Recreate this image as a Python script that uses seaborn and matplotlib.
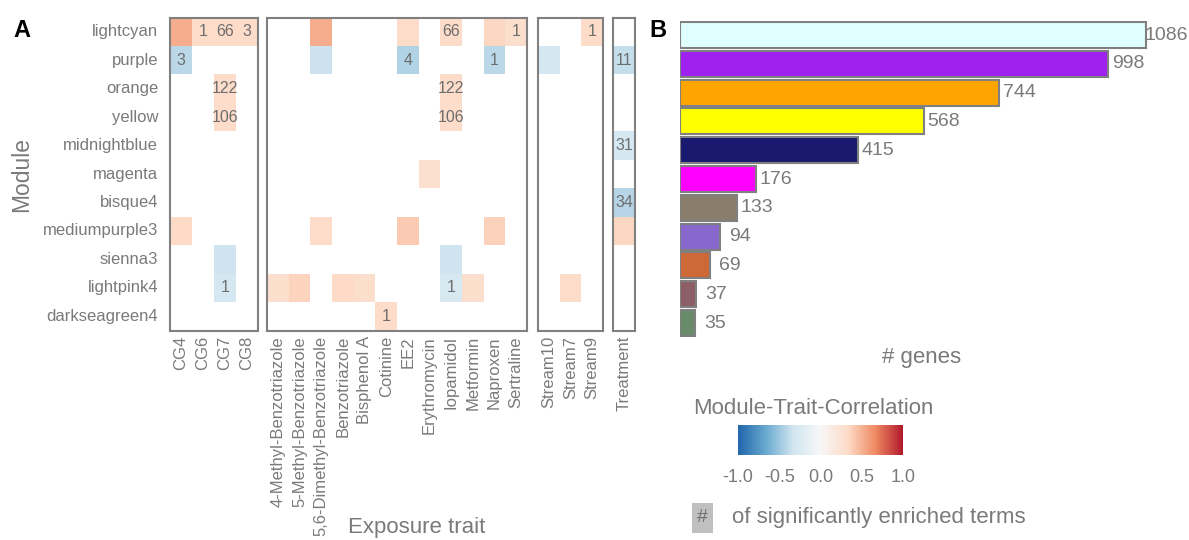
import numpy as np
import pandas as pd
import matplotlib
matplotlib.use("Agg")
import matplotlib.pyplot as plt
from matplotlib.colors import LinearSegmentedColormap, Normalize
from matplotlib.cm import ScalarMappable
from matplotlib.patches import Rectangle
import seaborn as sns

n = np.nan

modules = ["lightcyan", "purple", "orange", "yellow", "midnightblue", "magenta",
           "bisque4", "mediumpurple3", "sienna3", "lightpink4", "darkseagreen4"]
module_colors = ["#E0FFFF", "#A020F0", "#FFA500", "#FFFF00", "#191970", "#FF00FF",
                 "#8B7D6B", "#8968CD", "#CD6839", "#8B5F65", "#698B69"]
gene_counts = [1086, 998, 744, 568, 415, 176, 133, 94, 69, 37, 35]

traits_cg = ["CG4", "CG6", "CG7", "CG8"]
traits_chem = ["4-Methyl-Benzotriazole", "5-Methyl-Benzotriazole", "5,6-Dimethyl-Benzotriazole",
               "Benzotriazole", "Bisphenol A", "Cotinine", "EE2", "Erythromycin",
               "Iopamidol", "Metformin", "Naproxen", "Sertraline"]
traits_stream = ["Stream10", "Stream7", "Stream9"]
traits_treat = ["Treatment"]

# module-trait correlations (NaN = not shown)
corr_cg = [
    [0.52, 0.32, 0.32, 0.32],
    [-0.4, n, n, n],
    [n, n, 0.32, n],
    [n, n, 0.32, n],
    [n, n, n, n],
    [n, n, n, n],
    [n, n, n, n],
    [0.33, n, n, n],
    [n, n, -0.34, n],
    [n, n, -0.3, n],
    [n, n, n, n],
]
corr_chem = [
    [n, n, 0.52, n, n, n, 0.32, n, 0.32, n, 0.35, 0.3],
    [n, n, -0.35, n, n, n, -0.43, n, n, n, -0.4, n],
    [n, n, n, n, n, n, n, n, 0.32, n, n, n],
    [n, n, n, n, n, n, n, n, 0.32, n, n, n],
    [n, n, n, n, n, n, n, n, n, n, n, n],
    [n, n, n, n, n, n, n, 0.28, n, n, n, n],
    [n, n, n, n, n, n, n, n, n, n, n, n],
    [n, n, 0.32, n, n, n, 0.4, n, n, n, 0.37, n],
    [n, n, n, n, n, n, n, n, -0.34, n, n, n],
    [0.3, 0.36, n, 0.33, 0.3, n, n, n, -0.28, 0.3, n, n],
    [n, n, n, n, n, 0.32, n, n, n, n, n, n],
]
corr_stream = [
    [n, n, 0.32],
    [-0.3, n, n],
    [n, n, n],
    [n, n, n],
    [n, n, n],
    [n, n, n],
    [n, n, n],
    [n, n, n],
    [n, n, n],
    [n, 0.32, n],
    [n, n, n],
]
corr_treat = [[n], [-0.37], [n], [n], [-0.3], [n], [-0.42], [0.35], [n], [n], [n]]

# number of significantly enriched terms ("" = none)
terms_cg = [
    ["", "1", "66", "3"], ["3", "", "", ""], ["", "", "122", ""], ["", "", "106", ""],
    ["", "", "", ""], ["", "", "", ""], ["", "", "", ""], ["", "", "", ""],
    ["", "", "", ""], ["", "", "1", ""], ["", "", "", ""],
]
terms_chem = [
    ["", "", "", "", "", "", "", "", "66", "", "", "1"],
    ["", "", "", "", "", "", "4", "", "", "", "1", ""],
    ["", "", "", "", "", "", "", "", "122", "", "", ""],
    ["", "", "", "", "", "", "", "", "106", "", "", ""],
    [""] * 12, [""] * 12, [""] * 12, [""] * 12, [""] * 12,
    ["", "", "", "", "", "", "", "", "1", "", "", ""],
    ["", "", "", "", "", "1", "", "", "", "", "", ""],
]
terms_stream = [["", "", "1"]] + [["", "", ""]] * 10
terms_treat = [[""], ["11"], [""], [""], ["31"], [""], ["34"], [""], [""], [""], [""]]

# ---------------------------------------------------------------------------
sns.set_theme(style="white")
plt.rcParams["font.family"] = ["Liberation Sans", "DejaVu Sans"]
GRAY = "#7a7a7a"

W, H = 1189, 540
fig = plt.figure(figsize=(W / 100, H / 100), dpi=100)


def px(x0, y0, x1, y1):
    return [x0 / W, 1 - y1 / H, (x1 - x0) / W, (y1 - y0) / H]


cmap = LinearSegmentedColormap.from_list(
    "rdbu7", ["#2166ac", "#67a9cf", "#d1e5f0", "#f7f7f7", "#fddbc7", "#ef8a62", "#b2182b"])

groups = [
    (traits_cg, corr_cg, terms_cg, (170, 258)),
    (traits_chem, corr_chem, terms_chem, (267, 527)),
    (traits_stream, corr_stream, terms_stream, (538, 603)),
    (traits_treat, corr_treat, terms_treat, (613, 635)),
]
ytop, ybot = 17.5, 330.5
for gi, (traits, corr, terms, (x0, x1)) in enumerate(groups):
    ax = fig.add_axes(px(x0, ytop, x1, ybot))
    df = pd.DataFrame(corr, index=modules, columns=traits, dtype=float)
    an = pd.DataFrame(terms, index=modules, columns=traits)
    sns.heatmap(df, ax=ax, cmap=cmap, vmin=-1, vmax=1, cbar=False,
                annot=an.values, fmt="",
                annot_kws=dict(color="#6e6e6e", fontsize=11.5), linewidths=0)
    for s in ax.spines.values():
        s.set_visible(True)
        s.set_color("#808080")
        s.set_linewidth(1.5)
    ax.set_xlabel("")
    ax.set_ylabel("")
    ax.tick_params(axis="x", length=0, pad=4, labelsize=12, labelcolor=GRAY, rotation=90)
    if gi == 0:
        ax.tick_params(axis="y", length=0, pad=8.5, labelsize=12, labelcolor=GRAY, rotation=0)
    else:
        ax.set_yticks([])

fig.text(22 / W, 1 - 175 / H, "Module", rotation=90, ha="center", va="center",
         fontsize=16.5, color=GRAY)
fig.text(417 / W, 1 - 527 / H, "Exposure trait", ha="center", va="center",
         fontsize=16, color=GRAY)
fig.text(22 / W, 1 - 31 / H, "A", ha="center", va="center", fontsize=17,
         fontweight="bold", color="black")
fig.text(658 / W, 1 - 31 / H, "B", ha="center", va="center", fontsize=17,
         fontweight="bold", color="black")

# Panel B: bar chart
axb = fig.add_axes(px(680, 20.6, 1165, 337.4))
bdf = pd.DataFrame({"module": modules, "genes": gene_counts})
sns.barplot(data=bdf, y="module", x="genes", hue="module", palette=module_colors,
            order=modules, hue_order=modules, legend=False, ax=axb, orient="h",
            width=0.9, edgecolor="#808080", linewidth=1.5, saturation=1)
axb.set_xlim(0, 1130)
axb.set_ylim(len(modules) - 0.5, -0.5)
for s in axb.spines.values():
    s.set_visible(False)
axb.set_xticks([])
axb.set_yticks([])
axb.set_xlabel("")
axb.set_ylabel("")
axb.patch.set_alpha(0)
for i, v in enumerate(gene_counts):
    axb.annotate(str(v), xy=(v, i), xytext=(20, 0), textcoords="offset pixels",
                 ha="center", va="center", fontsize=14, color=GRAY, annotation_clip=False)
fig.text(922 / W, 1 - 358 / H, "# genes", ha="center", va="center", fontsize=16, color=GRAY)

# Legend
fig.text(693 / W, 1 - 408 / H, "Module-Trait-Correlation", ha="left", va="center",
         fontsize=16, color=GRAY)
cax = fig.add_axes(px(738, 425, 903, 455))
sm = ScalarMappable(norm=Normalize(-1, 1), cmap=cmap)
cb = fig.colorbar(sm, cax=cax, orientation="horizontal", ticks=[-1, -0.5, 0, 0.5, 1])
cb.outline.set_visible(False)
cb.ax.set_xticklabels(["-1.0", "-0.5", "0.0", "0.5", "1.0"])
cb.ax.tick_params(axis="x", direction="in", length=6, width=1.2, color="white",
                  labelsize=13, labelcolor=GRAY, pad=10)

fig.patches.append(Rectangle((692 / W, 1 - 533 / H), 21 / W, 30 / H,
                             transform=fig.transFigure, facecolor="#c0c0c0",
                             edgecolor="none"))
fig.text(702.5 / W, 1 - 518 / H, "#", ha="center", va="center", fontsize=14, color="#707070")
fig.text(732 / W, 1 - 518 / H, "of significantly enriched terms", ha="left", va="center",
         fontsize=16, color=GRAY)

fig.savefig("out.png", dpi=100)
